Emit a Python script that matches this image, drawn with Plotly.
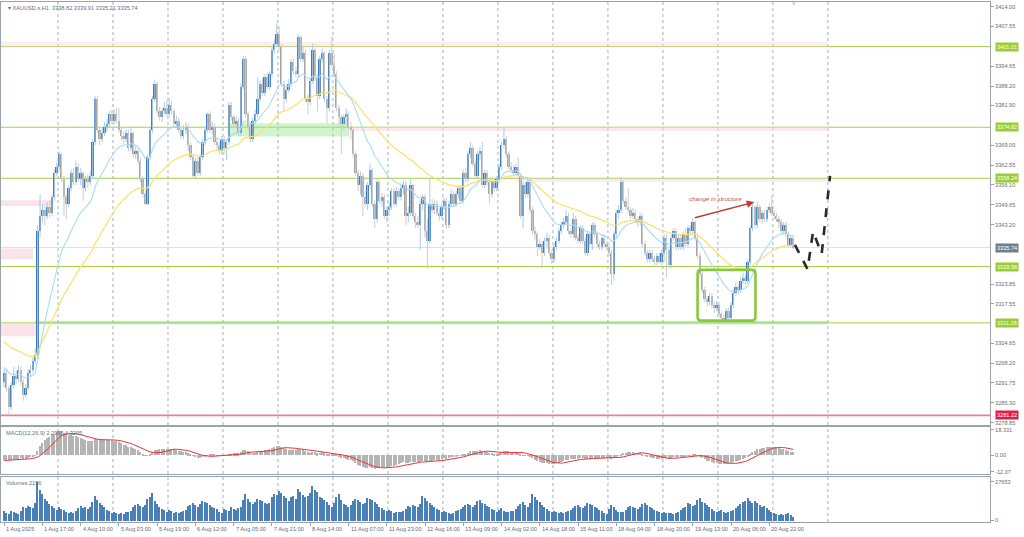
import plotly.graph_objects as go

# ---------------- data (XAUUSD.s, H1, 1 Aug 2025 01:00 -> 21 Aug 2025 09:00) ----------------
opens = [
3292,3295,3290,3284,3291,3294,3293,3296,3292,3288,3290,3295,3296,3299,3301,3341,3346,3348,3346,3349,3347,3352,3360,
3362,3366,3358,3352,3350,3355,3360,3357,3362,3358,3360,3355,3358,3357,3359,3370,3384,3374,3371,3373,3375,3376,3379,
3377,3379,3377,3374,3372,3371,3373,3368,3373,3366,3367,3364,3358,3353,3350,3365,3374,3384,3389,3380,3378,3380,3381,
3379,3382,3380,3376,3377,3374,3372,3374,3375,3369,3365,3359,3364,3360,3365,3370,3374,3379,3374,3375,3370,3369,3367,
3371,3368,3370,3382,3378,3376,3377,3373,3388,3397,3379,3375,3371,3377,3379,3384,3389,3386,3391,3388,3392,3400,3402,
3405,3401,3389,3384,3387,3389,3396,3393,3392,3404,3397,3399,3384,3383,3390,3400,3391,3385,3397,3399,3384,3381,3399,
3395,3392,3381,3378,3376,3378,3379,3375,3374,3366,3360,3356,3359,3352,3350,3356,3361,3350,3345,3357,3351,3352,3346,
3348,3349,3354,3350,3354,3352,3355,3356,3346,3347,3356,3346,3344,3343,3350,3352,3341,3338,3350,3348,3350,3347,3346,
3349,3351,3343,3350,3353,3350,3353,3355,3351,3360,3358,3366,3368,3363,3359,3366,3367,3356,3360,3357,3353,3357,3355,
3358,3362,3369,3371,3366,3362,3361,3360,3362,3359,3346,3356,3353,3357,3348,3341,3340,3336,3337,3334,3338,3339,3334,
3332,3336,3338,3341,3343,3344,3346,3341,3340,3345,3339,3338,3342,3338,3334,3340,3337,3343,3340,3337,3336,3339,3337,
3336,3334,3327,3340,3347,3348,3357,3351,3349,3348,3346,3347,3345,3344,3346,3337,3334,3332,3334,3332,3331,3333,3331,
3334,3339,3335,3330,3339,3341,3336,3339,3336,3340,3337,3342,3341,3344,3339,3333,3327,3322,3319,3318,3320,3317,3316,
3317,3314,3313,3312,3315,3313,3317,3321,3323,3322,3325,3326,3325,3331,3342,3349,3343,3349,3345,3347,3345,3348,3349,
3347,3346,3345,3344,3341,3343,3340,3336.5,3338.82]
highs = [
3296.5,3296,3291,3292,3297,3295.5,3297.5,3297,3293,3291.5,3296,3297.5,3300,3303,3343,3353,3350,3349.5,3350.5,3351,3353,3361,3363.5,
3367,3366.5,3359,3353,3356,3361,3361.5,3364,3363,3361.5,3360.5,3359,3359.5,3360.5,3371,3385,3385,3375,3374.5,3376.5,3377.5,3380,3380.5,
3380.5,3381,3381,3375,3373.5,3374,3374,3374.5,3373.5,3369,3368,3365,3359,3354,3366,3375,3385,3390.3,3389.5,3381.5,3381,3383,3383.5,
3384.5,3383.5,3381,3378.5,3378,3375,3375.5,3376.5,3376,3370,3366,3365,3365.5,3366,3371,3375,3379.5,3380,3376.5,3376,3371.5,3370,3372,
3372,3371,3383,3383,3379,3378.5,3378,3389,3398,3398,3380,3376,3378,3380.5,3391,3390,3390.5,3392,3392.5,3393,3401,3403.5,3408.6,
3407.5,3402,3390,3388,3390.5,3397,3397,3394.5,3405,3404.5,3401,3400,3385.5,3391,3402,3400.5,3392,3398,3400.5,3399.5,3385,3400,3404.5,
3399,3393,3382,3379,3379,3381,3380,3376.5,3375,3367,3361,3360.5,3360,3354,3357,3363,3361.5,3351,3358,3357.5,3353.5,3353,3349,
3350.5,3355,3355,3355.5,3355,3356.5,3357.5,3357,3349,3358,3356.5,3347,3346,3351,3353,3353,3345,3358.6,3351.5,3351,3351,3348.5,3350,
3352,3352,3351,3354.5,3354,3354,3356,3356,3361,3361.5,3367,3370,3369,3364,3367,3368.5,3370,3361,3361,3358,3358,3358,3359,
3363,3370,3374.5,3372,3367,3363.5,3362.5,3363,3365,3360,3357,3357,3358,3358,3349,3342.5,3341,3338.5,3338,3339,3340.5,3340,3335,
3337,3339,3342,3344,3345.5,3348,3347,3342,3347,3346,3340,3343,3343,3339,3341,3341,3344,3344,3341,3338,3340,3340,3338,
3337,3335,3341,3348,3349.5,3358.5,3357.5,3352,3355,3349,3348.5,3348,3346,3347,3346.5,3338,3335,3335,3335,3333,3334,3334,3335,
3340,3340,3336,3340,3342,3342,3340,3340,3341,3342,3343,3343,3345.3,3344.5,3340,3334,3328,3323,3320,3321,3321,3318,3318.5,
3318,3315,3314,3316,3316,3318,3322,3324.5,3324,3326,3327.5,3327,3332,3343,3350,3349.5,3350.5,3349.5,3348,3348,3349,3350,3352.5,
3348,3347,3346,3345,3344,3344,3341,3339.5,3339.91]
lows = [
3290.5,3289,3281.6,3283,3290,3291.5,3292,3291,3286,3287,3289.5,3294,3295,3298,3299,3339,3344,3343,3345,3345.5,3346,3351,3359,
3361,3357,3346,3345,3349,3354,3356,3356,3357,3356,3351,3354,3355,3356,3358,3369,3373,3369,3370,3372,3373.5,3375,3376,
3376,3376,3373,3370.5,3369.5,3370,3367,3367,3365,3364.5,3363,3357,3352,3349.5,3349.5,3364,3373,3383,3379,3377,3376.5,3379,3378,
3378,3379,3375,3374.5,3373,3371,3371,3372.5,3367,3364,3358,3358,3359,3359,3364,3369,3373,3373,3372.5,3369,3367.5,3366,3366,
3366,3364,3369,3377,3374.5,3375,3372,3372,3387,3378,3374,3370,3370,3376,3378,3383,3385,3385,3387,3387,3391,3399,3401,
3400,3388,3380,3383,3386,3388,3392,3391,3391,3396,3396,3383,3379,3382,3389,3390,3380,3384,3396,3383,3376,3380,3394,
3391,3380,3375,3366,3374,3376,3374,3371,3365,3359,3354,3353,3346,3349,3348,3355,3349,3342,3344,3350,3349,3345,3344,
3346,3348,3349,3349,3351,3351,3353,3343,3344,3346,3345,3342,3342,3335,3348,3339,3329,3337,3347,3346.5,3346,3344.5,3345,
3348,3342,3342,3349,3349,3349,3352,3350,3350,3357,3357,3365,3362,3358,3358,3364,3355,3355,3356,3350,3352,3354,3354,
3357,3361,3368,3365,3361,3360,3359,3359,3358,3345,3342,3352,3352,3347,3340,3338,3333,3335,3329,3333,3336,3333,3330.5,
3331,3335,3337,3340,3342,3343,3340,3339,3339,3338,3337,3337,3337,3333,3333,3336,3335,3339,3336,3335,3335,3336,3335,
3333,3323.5,3325,3339,3345,3347,3350,3348,3347,3345,3345,3344,3342.5,3343,3336,3333,3331,3331,3331,3330,3330,3330.5,3330,
3331,3326,3329,3329,3338,3335,3335,3335,3335,3336,3336,3340,3340,3338,3332,3326,3321,3318,3316.5,3317,3316,3314.5,3315,
3313,3312,3311.3,3311.5,3312,3312.5,3316,3320,3320.5,3321,3324,3323.5,3324,3330,3341,3342,3342,3344,3343.5,3344,3344,3347,3346,
3345,3344,3342,3340,3340,3339,3336,3335.8,3335.21]
closes = [
3295,3290,3284,3291,3294,3293,3296,3292,3288,3290,3295,3296,3299,3301,3341,3346,3348,3346,3349,3347,3352,3360,3362,
3366,3358,3352,3350,3355,3360,3357,3362,3358,3360,3355,3358,3357,3359,3370,3384,3374,3371,3373,3375,3376,3379,3377,
3379,3377,3374,3372,3371,3373,3368,3373,3366,3367,3364,3358,3353,3350,3365,3374,3384,3389,3380,3378,3380,3381,3379,
3382,3380,3376,3377,3374,3372,3374,3375,3369,3365,3359,3364,3360,3365,3370,3374,3379,3374,3375,3370,3369,3367,3371,
3368,3370,3382,3378,3376,3377,3373,3388,3397,3379,3375,3371,3377,3379,3384,3389,3386,3391,3388,3392,3400,3402,3405,
3401,3389,3384,3387,3389,3396,3393,3392,3404,3397,3399,3384,3383,3390,3400,3391,3385,3397,3399,3384,3381,3399,3395,
3392,3381,3378,3376,3378,3379,3375,3374,3366,3360,3356,3359,3352,3350,3356,3361,3350,3345,3357,3351,3352,3346,3348,
3349,3354,3350,3354,3352,3355,3356,3346,3347,3356,3346,3344,3343,3350,3352,3341,3338,3350,3348,3350,3347,3346,3349,
3351,3343,3350,3353,3350,3353,3355,3351,3360,3358,3366,3368,3363,3359,3366,3367,3356,3360,3357,3353,3357,3355,3358,
3362,3369,3371,3366,3362,3361,3360,3362,3359,3346,3356,3353,3357,3348,3341,3340,3336,3337,3334,3338,3339,3334,3332,
3336,3338,3341,3343,3344,3346,3341,3340,3345,3339,3338,3342,3338,3334,3340,3337,3343,3340,3337,3336,3339,3337,3336,
3334,3327,3340,3347,3348,3357,3351,3349,3348,3346,3347,3345,3344,3346,3337,3334,3332,3334,3332,3331,3333,3331,3334,
3339,3335,3330,3339,3341,3336,3339,3336,3340,3337,3342,3341,3344,3339,3333,3327,3322,3319,3318,3320,3317,3316,3317,
3314,3313,3312,3315,3313,3317,3321,3323,3322,3325,3326,3325,3331,3342,3349,3343,3349,3345,3347,3345,3348,3349,3347,
3346,3345,3344,3341,3343,3340,3336.5,3338.82,3335.74]
volumes = [
6500,5200,4800,7000,6100,5500,4900,6800,9800,8700,10200,9400,8800,12500,27653,21400,18700,15200,13900,12100,10400,9100,7600,
9800,8200,7400,6100,5600,5900,5200,6800,9100,10300,8800,9600,8200,9700,13200,17500,14600,12800,10900,9800,7200,6500,5100,
6100,5400,4600,5200,4800,6200,5800,7100,9600,10800,11900,10200,9400,10700,15300,16900,19800,14200,12100,9900,8400,7600,6300,
7200,6600,5300,5900,5100,6300,6900,7800,10200,11400,12600,10700,9300,11800,14100,13200,12400,11200,9700,8800,7900,6400,5600,
8100,7300,6800,9900,8400,7700,8900,9600,14700,18900,15300,12900,11800,13400,15600,14800,13700,12600,11900,12800,16400,19200,17900,
21300,19600,17800,15900,14200,16800,17400,15100,22600,20400,18300,16900,17700,19400,24800,21900,20200,16700,15800,14300,12900,11400,9800,
12600,16400,18900,14300,12100,10800,9700,11200,13800,15600,14900,13200,11700,12400,16100,15300,14400,13100,11800,9900,8700,7600,6500,
7800,6900,5700,6300,5800,6400,7100,8200,10300,9800,11200,10600,9400,11800,17600,15800,13900,12400,10800,9600,8100,7200,6000,
6600,5900,5200,4900,5600,6800,7300,8100,9900,10700,12100,11300,9800,10900,13600,14800,12700,11900,10600,9300,8500,7400,6100,
7400,8900,6800,5900,6200,7100,6600,7900,10400,11600,12900,10800,9600,12300,18600,16400,14700,13200,11400,9800,8300,7000,5900,
6900,6100,5400,5800,5200,6300,6700,7500,9200,10100,11400,9900,9100,10600,12800,12100,10900,9600,8700,7800,6600,5500,4800,
8200,10900,9400,7300,6100,5800,6400,7200,9300,10600,9800,8900,8400,9700,11900,12600,10800,9900,8600,7700,6900,5800,5200,
6300,5700,5100,5400,4900,5600,6200,7400,8800,9900,12700,11600,10400,11300,14600,15900,13100,12300,10700,9400,8100,6900,5800,
6700,7400,6100,5300,5800,6500,7200,8600,10600,11800,12900,13700,16200,14100,12800,13600,12200,10900,9800,10400,8700,7300,6200,
5400,4600,3900,4300,3700,4800,5200,4100,2156]

x_tick_labels = ["1 Aug 2025", "1 Aug 17:00", "4 Aug 10:00", "5 Aug 03:00", "5 Aug 19:00", "6 Aug 12:00",
                 "7 Aug 05:00", "7 Aug 21:00", "8 Aug 14:00", "11 Aug 07:00", "11 Aug 23:00", "12 Aug 16:00",
                 "13 Aug 09:00", "14 Aug 02:00", "14 Aug 18:00", "15 Aug 11:00", "18 Aug 04:00", "18 Aug 20:00",
                 "19 Aug 13:00", "20 Aug 06:00", "20 Aug 22:00"]
x_tick_bars = [0, 16, 32, 48, 64, 80, 96, 112, 128, 144, 160, 176, 192, 208, 224, 240, 256, 272, 288, 304, 320]
day_start_bars = [23, 46, 69, 92, 115, 138, 161, 184, 207, 230, 253, 276, 299, 322, 345]

price_ticks = [3414.00, 3407.55, 3394.65, 3388.20, 3381.90, 3369.00, 3362.55, 3356.10, 3349.65, 3343.20,
               3323.85, 3317.55, 3304.65, 3298.20, 3291.75, 3285.30, 3278.85]
level_prices = [3401.01, 3374.82, 3358.24, 3329.58, 3311.28]
support_red = 3281.22
last_price = 3335.74

# projected path (drawn by hand on the chart)
proj_bar = [330.7, 336.0, 338.3, 341.9, 345.4]
proj_price = [3336.6, 3328.7, 3340.9, 3333.7, 3359.0]

macd_label = "MACD(12,26,9) 2.2956 4.3205"
vol_label = "Volumes 2156"
title_text = "\u25be XAUUSD.s,H1  3338.82 3339.91 3335.21 3335.74"

# ---------------- indicators ----------------
n = len(closes)
idx = list(range(n))


def ema(values, period, seed):
    a = 2.0 / (period + 1)
    e = seed
    out = []
    for v in values:
        e += a * (v - e)
        out.append(e)
    return out


ma_fast = ema(closes, 20, 3297.0)
ma_slow = ema(closes, 50, 3305.5)
e12 = ema(closes, 12, 3294.5)
e26 = ema(closes, 26, 3298.0)
macd = [a - b for a, b in zip(e12, e26)]
padded = [-4.0] * 8 + macd
signal = [sum(padded[i:i + 9]) / 9.0 for i in range(n)]

# ---------------- styling ----------------
BULL, BULL_W = "#3f7bb8", "#a9cbeb"
BEAR, BEAR_W = "#a6a6a6", "#cdcdcd"
AXIS_C = "#9aa3ad"
TXT = "#5f6e7c"
FONT = "Liberation Sans"
FS = 5.6
GREENLINE = "#a5cf45"

fig = go.Figure()

# wicks
for bull in (True, False):
    xs, ys = [], []
    for i in idx:
        if (closes[i] >= opens[i]) == bull:
            xs += [i, i, None]
            ys += [lows[i], highs[i], None]
    fig.add_trace(go.Scatter(x=xs, y=ys, mode="lines", line=dict(color=BULL_W if bull else BEAR_W, width=1),
                             hoverinfo="skip", showlegend=False, xaxis="x", yaxis="y"))

# bodies
fig.add_trace(go.Bar(x=idx, base=[min(o, c) for o, c in zip(opens, closes)],
                     y=[max(abs(c - o), 0.35) for o, c in zip(opens, closes)],
                     marker=dict(color=[BULL if c >= o else BEAR for o, c in zip(opens, closes)], line=dict(width=0)),
                     width=0.75, showlegend=False, xaxis="x", yaxis="y"))

# moving averages
fig.add_trace(go.Scatter(x=idx, y=ma_slow, mode="lines", line=dict(color="#fbe06a", width=1.2),
                         showlegend=False, xaxis="x", yaxis="y"))
fig.add_trace(go.Scatter(x=idx, y=ma_fast, mode="lines", line=dict(color="#a9dcf2", width=1.1),
                         showlegend=False, xaxis="x", yaxis="y"))

# projection
fig.add_trace(go.Scatter(x=proj_bar, y=proj_price, mode="lines", line=dict(color="#2a2a2a", width=2.6, dash="dash"),
                         showlegend=False, xaxis="x", yaxis="y"))

# MACD
fig.add_trace(go.Bar(x=idx, y=macd, marker=dict(color="#b4b4b4", line=dict(width=0)), width=0.6,
                     showlegend=False, xaxis="x2", yaxis="y2"))
fig.add_trace(go.Scatter(x=idx, y=signal, mode="lines", line=dict(color="#e8343a", width=1),
                         showlegend=False, xaxis="x2", yaxis="y2"))

# volumes
fig.add_trace(go.Bar(x=idx, y=volumes, marker=dict(color="#4a80b8", line=dict(width=0)), width=0.6,
                     showlegend=False, xaxis="x3", yaxis="y3"))

# ---------------- shapes ----------------
shapes = []
for ref in ("y domain", "y2 domain", "y3 domain"):
    for d in day_start_bars:
        shapes.append(dict(type="line", xref="x", yref=ref, x0=d - 0.5, x1=d - 0.5, y0=0, y1=1,
                           line=dict(color="#a7afb8", width=1, dash="dot"), layer="below"))

pink = "rgba(248,205,215,0.55)"
lgreen = "rgba(150,230,140,0.45)"
zones = [
    (-1.5, 19.6, 3349.2, 3351.1, pink),
    (-1.5, 12.1, 3332.0, 3335.4, pink),
    (-1.5, 13.2, 3306.9, 3311.2, pink),
    (-1.5, 344.6, 3401.0, 3402.6, "rgba(248,215,222,0.45)"),
    (144.2, 344.6, 3373.6, 3374.8, "rgba(248,215,222,0.55)"),
    (213.8, 344.6, 3357.1, 3358.2, "rgba(248,215,222,0.55)"),
    (93.5, 144.2, 3371.8, 3376.1, lgreen),
    (12.8, 344.6, 3310.8, 3311.9, "rgba(150,225,130,0.6)"),
]
for x0, x1, y0, y1, col in zones:
    shapes.append(dict(type="rect", xref="x", yref="y", x0=x0, x1=x1, y0=y0, y1=y1,
                       fillcolor=col, line=dict(width=0), layer="below"))

for p in level_prices:
    shapes.append(dict(type="line", xref="x domain", yref="y", x0=0, x1=1, y0=p, y1=p,
                       line=dict(color=GREENLINE, width=1), layer="below"))
shapes.append(dict(type="line", xref="x domain", yref="y", x0=0, x1=1, y0=last_price, y1=last_price,
                   line=dict(color="#dcdff0", width=1), layer="below"))
shapes.append(dict(type="line", xref="x domain", yref="y", x0=0, x1=1, y0=support_red, y1=support_red,
                   line=dict(color="#e98096", width=1.6), layer="below"))

bx0, bx1, by0, by1, rx, ry = 290.0, 314.2, 3312.0, 3328.5, 1.6, 1.3
path = (f"M {bx0+rx},{by1} L {bx1-rx},{by1} Q {bx1},{by1} {bx1},{by1-ry} L {bx1},{by0+ry} "
        f"Q {bx1},{by0} {bx1-rx},{by0} L {bx0+rx},{by0} Q {bx0},{by0} {bx0},{by0+ry} "
        f"L {bx0},{by1-ry} Q {bx0},{by1} {bx0+rx},{by1} Z")
shapes.append(dict(type="path", xref="x", yref="y", path=path, line=dict(color="#8cc63f", width=2.6)))

# ---------------- annotations ----------------
ann = []
for pos, t in zip(x_tick_bars, x_tick_labels):
    ann.append(dict(x=pos, y=-0.0135, xref="x", yref="paper", text=t, showarrow=False, xanchor="left",
                    yanchor="middle", xshift=0, font=dict(family=FONT, size=FS, color=TXT)))

ann.append(dict(x=0.005, y=0.9885, xref="paper", yref="paper", text=title_text, showarrow=False,
                xanchor="left", yanchor="middle", font=dict(family=FONT, size=FS, color=TXT)))
ann.append(dict(x=0.003, y=0.172, xref="paper", yref="paper", text=macd_label, showarrow=False,
                xanchor="left", yanchor="middle", font=dict(family=FONT, size=FS, color=TXT)))
ann.append(dict(x=0.003, y=0.075, xref="paper", yref="paper", text=vol_label, showarrow=False,
                xanchor="left", yanchor="middle", font=dict(family=FONT, size=FS, color=TXT)))
# chart-shift marker
ann.append(dict(x=330.5, y=0.997, xref="x", yref="paper", text="\u25be", showarrow=False,
                xanchor="center", yanchor="middle", font=dict(family=FONT, size=7, color="#c3cde0")))

boxes = [(p, "#9acd32") for p in level_prices] + [(last_price, "#6f7f90"), (support_red, "#dc1f4a")]
for p, col in boxes:
    ann.append(dict(x=1.0052, y=p, xref="paper", yref="y", text=f"{p:.2f}", showarrow=False, xanchor="left",
                    yanchor="middle", bgcolor=col, borderpad=1, font=dict(family=FONT, size=FS, color="white")))

ann.append(dict(x=313.7, y=3350.5, ax=288.2, ay=3345.3, xref="x", yref="y", axref="x", ayref="y", text="",
                showarrow=True, arrowhead=2, arrowsize=1, arrowwidth=1.5, arrowcolor="#c0392b"))
ann.append(dict(x=297.3, y=3351.8, xref="x", yref="y", text="<i>change in structure</i>", showarrow=False,
                font=dict(family=FONT, size=6.2, color="#c0504d")))

xr = [-1.34, 412.3]
common_x = dict(range=xr, showgrid=False, zeroline=False, showline=True, linecolor=AXIS_C, mirror=True,
                showticklabels=False, ticks="")
ytick = dict(family=FONT, size=FS, color=TXT)
fig.update_layout(
    width=1024, height=537,
    margin=dict(l=1, r=34, t=2, b=15),
    paper_bgcolor="white", plot_bgcolor="white",
    bargap=0, showlegend=False,
    xaxis=dict(domain=[0, 1], anchor="y", **common_x),
    xaxis2=dict(domain=[0, 1], anchor="y2", matches="x", **common_x),
    xaxis3=dict(domain=[0, 1], anchor="y3", matches="x", range=xr, showgrid=False, zeroline=False, showline=True,
                linecolor=AXIS_C, mirror=True, showticklabels=False, ticks="outside", ticklen=3,
                tickcolor=AXIS_C, tickvals=x_tick_bars),
    yaxis=dict(domain=[0.18654, 1], range=[3278.1, 3415.5], side="right", anchor="x", showgrid=False,
               zeroline=False, showline=True, linecolor=AXIS_C, mirror=True, ticks="outside", ticklen=3,
               tickcolor=AXIS_C, tickvals=price_ticks, ticktext=[f"{v:.2f}" for v in price_ticks],
               tickfont=ytick),
    yaxis2=dict(domain=[0.09231, 0.18269], range=[-13.75, 20.5], side="right", anchor="x2", showgrid=False,
                zeroline=False, showline=True, linecolor=AXIS_C, mirror=True, ticks="outside", ticklen=3,
                tickcolor=AXIS_C, tickvals=[18.331, 0, -12.07], ticktext=["18.331", "0.00", "-12.07"],
                tickfont=ytick),
    yaxis3=dict(domain=[0, 0.08654], range=[-1069, 31003], side="right", anchor="x3", showgrid=False,
                zeroline=False, showline=True, linecolor=AXIS_C, mirror=True, ticks="outside", ticklen=3,
                tickcolor=AXIS_C, tickvals=[27653, 0], ticktext=["27653", "0"],
                tickfont=ytick),
    shapes=shapes, annotations=ann,
)

fig.write_html("out.html", config={"displayModeBar": False},
               post_script="document.body.style.margin='0';document.body.style.overflow='hidden';")
